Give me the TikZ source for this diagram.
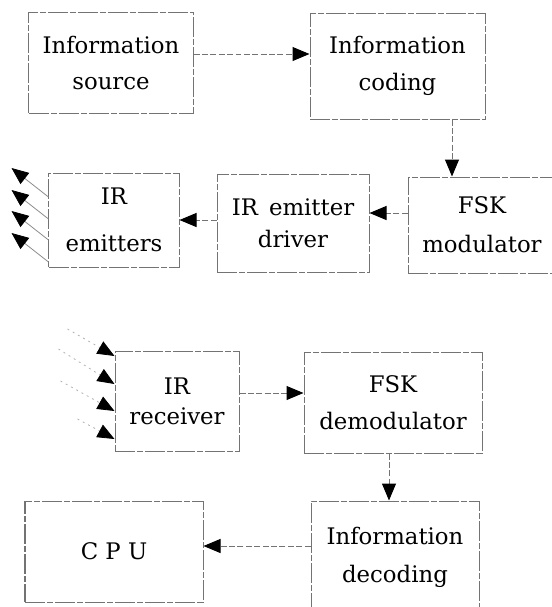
\documentclass[tikz,border=0pt]{standalone}
\usepackage{fontspec}
\setmainfont{DejaVu Serif}
\usepackage{tikz}
\usetikzlibrary{arrows.meta}

\begin{document}
\begin{tikzpicture}[x=0.5pt, y=-0.5pt,
    blk/.style={draw=black!55, line width=0.5pt, dash pattern=on 10pt off 1pt on 3pt off 1pt,
        inner sep=0pt, align=center, font={\fontsize{11.4}{18}\selectfont}},
    arr/.style={draw=black!55, line width=0.5pt, dash pattern=on 3pt off 1.2pt,
        -{Triangle[length=8.5pt,width=7pt,color=black]}},
    ray/.style={draw=black!45, line width=0.4pt,
        -{Triangle[length=8.5pt,width=7pt,color=black]}},
    rayin/.style={draw=black!30, line width=0.4pt, dash pattern=on 1pt off 2pt,
        -{Triangle[length=8.5pt,width=7pt,color=black]}}]
        \useasboundingbox (0,0) rectangle (552,607);
        \clip (0,0) rectangle (552,607);

        \node[blk, minimum width=82pt, minimum height=50.5pt] (src) at (111,62.5) {Information\\[0pt]source};
        \node[blk, minimum width=87.5pt, minimum height=53pt] (cod) at (397.5,66) {Information\\[0.5pt]coding};

        \node[blk, minimum width=65pt, minimum height=47pt] (emit) at (114,220) {IR\\[5.5pt]emitters};
        \node[blk, minimum width=76pt, minimum height=49pt] (drv) at (293,223) {IR\, emitter\\[-2pt]driver};
        \node[blk, minimum width=74pt, minimum height=48pt] (mod) at (482,225) {FSK\\[1.5pt]modulator};

        \node[blk, minimum width=62pt, minimum height=50pt] (rcv) at (177,401) {IR\\[-3pt]receiver};
        \node[blk, minimum width=89pt, minimum height=50.5pt] (dem) at (393,402.5) {FSK\\[0.5pt]demodulator};

        \node[blk, minimum width=89pt, minimum height=50.5pt] (cpu) at (114,551.5) {C P U};
        \node[blk, minimum width=84pt, minimum height=56pt] (dec) at (395,557) {Information\\[1pt]decoding};

        \draw[arr] ([yshift=4.25pt]src.east) -- ([yshift=4.25pt]src.east -| cod.west);
        \draw[arr] ([xshift=27.25pt]cod.south) -- ([xshift=27.25pt]cod.south |- mod.north);
        \draw[arr] ([yshift=6pt]mod.west) -- ([yshift=6pt]mod.west -| drv.east);
        \draw[arr] ([yshift=1.5pt]drv.west) -- ([yshift=1.5pt]drv.west -| emit.east);

        \draw[arr] ([yshift=4pt]rcv.east) -- ([yshift=4pt]rcv.east -| dem.west);
        \draw[arr] ([xshift=-2pt]dem.south) -- ([xshift=-2pt]dem.south |- dec.north);
        \draw[arr] ([yshift=5.5pt]dec.west) -- ([yshift=5.5pt]dec.west -| cpu.east);

        \foreach \dy in {11.5,0.5,-10,-21}
            \draw[ray] ([yshift=\dy pt]emit.west) -- ++(-18.5pt,14.5pt);

        \foreach \sx/\sy/\dy in {-23.5/36/22.5, -28/26/8.5, -27/10/-5, -18.5/-9/-19}
            \draw[rayin] ([xshift=\sx pt,yshift=\sy pt]rcv.west) -- ([yshift=\dy pt]rcv.west);
\end{tikzpicture}
\end{document}
